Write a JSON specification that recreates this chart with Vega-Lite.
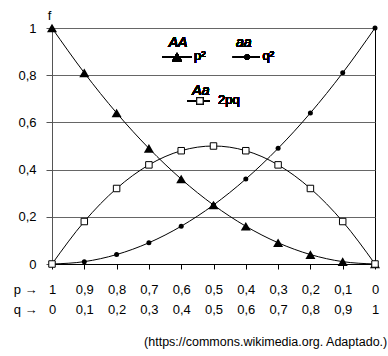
{
  "$schema": "https://vega.github.io/schema/vega-lite/v6.json",
  "width": 323,
  "height": 236,
  "autosize": {"type": "none"},
  "padding": {"left": 52, "top": 28, "right": 13, "bottom": 92},
  "background": "white",
  "config": {
    "font": "Liberation Sans",
    "view": {"stroke": "#000", "strokeWidth": 1},
    "axis": {"labelColor": "#000", "titleColor": "#000", "labelFontSize": 13, "titleFontSize": 13, "titleFontWeight": "normal", "labelFont": "Liberation Sans", "titleFont": "Liberation Sans", "labelOverlap": false, "labelBound": false, "labelFlush": false}
  },
  "title": {"text": "(https://commons.wikimedia.org. Adaptado.)", "orient": "bottom", "anchor": "end", "fontSize": 12.5, "fontWeight": "normal", "color": "#000", "offset": 20, "dx": 7, "font": "Liberation Sans"},
  "resolve": {"axis": {"x": "independent", "y": "independent"}},
  "data": {"values": [
    {"q": 0, "s": "p2", "f": 1}, {"q": 0.1, "s": "p2", "f": 0.81}, {"q": 0.2, "s": "p2", "f": 0.64}, {"q": 0.3, "s": "p2", "f": 0.49}, {"q": 0.4, "s": "p2", "f": 0.36}, {"q": 0.5, "s": "p2", "f": 0.25}, {"q": 0.6, "s": "p2", "f": 0.16}, {"q": 0.7, "s": "p2", "f": 0.09}, {"q": 0.8, "s": "p2", "f": 0.04}, {"q": 0.9, "s": "p2", "f": 0.01}, {"q": 1, "s": "p2", "f": 0},
    {"q": 0, "s": "q2", "f": 0}, {"q": 0.1, "s": "q2", "f": 0.01}, {"q": 0.2, "s": "q2", "f": 0.04}, {"q": 0.3, "s": "q2", "f": 0.09}, {"q": 0.4, "s": "q2", "f": 0.16}, {"q": 0.5, "s": "q2", "f": 0.25}, {"q": 0.6, "s": "q2", "f": 0.36}, {"q": 0.7, "s": "q2", "f": 0.49}, {"q": 0.8, "s": "q2", "f": 0.64}, {"q": 0.9, "s": "q2", "f": 0.81}, {"q": 1, "s": "q2", "f": 1},
    {"q": 0, "s": "pq", "f": 0}, {"q": 0.1, "s": "pq", "f": 0.18}, {"q": 0.2, "s": "pq", "f": 0.32}, {"q": 0.3, "s": "pq", "f": 0.42}, {"q": 0.4, "s": "pq", "f": 0.48}, {"q": 0.5, "s": "pq", "f": 0.5}, {"q": 0.6, "s": "pq", "f": 0.48}, {"q": 0.7, "s": "pq", "f": 0.42}, {"q": 0.8, "s": "pq", "f": 0.32}, {"q": 0.9, "s": "pq", "f": 0.18}, {"q": 1, "s": "pq", "f": 0}
  ]},
  "layer": [
    {
      "mark": {"type": "line", "color": "#000", "strokeWidth": 1, "interpolate": "monotone", "clip": false},
      "encoding": {
        "x": {"field": "q", "type": "quantitative", "scale": {"domain": [0, 1], "nice": false},
          "axis": {"orient": "bottom", "values": [0, 0.1, 0.2, 0.3, 0.4, 0.5, 0.6, 0.7, 0.8, 0.9, 1],
            "labelExpr": "replace(format(1-datum.value,'.1~f'),'.',',')",
            "grid": false, "tickSize": 5, "labelPadding": 14, "labelBaseline": "top",
            "domainColor": "#000", "tickColor": "#000",
            "title": "p →", "titleX": -15, "titleY": 19, "titleAlign": "right", "titleBaseline": "top", "titleAngle": 0}},
        "y": {"field": "f", "type": "quantitative", "scale": {"domain": [0, 1], "nice": false},
          "axis": {"values": [0, 0.2, 0.4, 0.6, 0.8, 1],
            "labelExpr": "replace(format(datum.value,'.1~f'),'.',',')",
            "grid": true, "gridColor": "#666", "domainColor": "#555", "tickColor": "#555", "tickSize": 6, "labelPadding": 10,
            "title": "f", "titleAngle": 0, "titleX": -3, "titleY": -13, "titleAlign": "center", "titleBaseline": "middle"}},
        "detail": {"field": "s", "type": "nominal"}
      }
    },
    {
      "transform": [{"filter": "datum.s == 'p2'"}],
      "mark": {"type": "point", "shape": "triangle-up", "size": 100, "filled": true, "color": "#000", "opacity": 1, "clip": false},
      "encoding": {
        "x": {"field": "q", "type": "quantitative",
          "axis": {"orient": "bottom", "values": [0, 0.1, 0.2, 0.3, 0.4, 0.5, 0.6, 0.7, 0.8, 0.9, 1],
            "labelExpr": "replace(format(datum.value,'.1~f'),'.',',')",
            "grid": false, "ticks": false, "domain": false, "tickSize": 0, "labelPadding": 39, "labelBaseline": "top",
            "title": "q →", "titleX": -15, "titleY": 39, "titleAlign": "right", "titleBaseline": "top", "titleAngle": 0}},
        "y": {"field": "f", "type": "quantitative", "axis": null}
      }
    },
    {
      "transform": [{"filter": "datum.s == 'q2'"}],
      "mark": {"type": "point", "shape": "circle", "size": 25, "filled": true, "color": "#000", "opacity": 1, "clip": false},
      "encoding": {"x": {"field": "q", "type": "quantitative", "axis": null}, "y": {"field": "f", "type": "quantitative", "axis": null}}
    },
    {
      "transform": [{"filter": "datum.s == 'pq'"}],
      "mark": {"type": "point", "shape": "square", "size": 42, "fill": "#fff", "stroke": "#000", "strokeWidth": 1, "opacity": 1, "clip": false},
      "encoding": {"x": {"field": "q", "type": "quantitative", "axis": null}, "y": {"field": "f", "type": "quantitative", "axis": null}}
    },
    {"mark": {"type": "text", "font": "Liberation Sans", "fontSize": 14, "fontStyle": "italic", "align": "center", "baseline": "middle"},
     "encoding": {"x": {"datum": 0.39, "axis": null}, "y": {"datum": 0.936, "axis": null}, "text": {"value": "AA"}}},
    {"mark": {"type": "text", "font": "Liberation Sans", "fontSize": 14, "fontStyle": "italic", "align": "center", "baseline": "middle"},
     "encoding": {"x": {"datum": 0.594, "axis": null}, "y": {"datum": 0.936, "axis": null}, "text": {"value": "aa"}}},
    {"mark": {"type": "text", "font": "Liberation Sans", "fontSize": 14, "fontStyle": "italic", "align": "center", "baseline": "middle"},
     "encoding": {"x": {"datum": 0.461, "axis": null}, "y": {"datum": 0.733, "axis": null}, "text": {"value": "Aa"}}},
    {"mark": {"type": "rule", "color": "#000", "strokeWidth": 1},
     "encoding": {"x": {"datum": 0.341, "axis": null}, "x2": {"datum": 0.433}, "y": {"datum": 0.877, "axis": null}}},
    {"mark": {"type": "rule", "color": "#000", "strokeWidth": 1},
     "encoding": {"x": {"datum": 0.56, "axis": null}, "x2": {"datum": 0.644}, "y": {"datum": 0.877, "axis": null}}},
    {"mark": {"type": "rule", "color": "#000", "strokeWidth": 1},
     "encoding": {"x": {"datum": 0.418, "axis": null}, "x2": {"datum": 0.489}, "y": {"datum": 0.691, "axis": null}}},
    {"mark": {"type": "point", "shape": "triangle-up", "size": 100, "filled": true, "color": "#000", "opacity": 1},
     "encoding": {"x": {"datum": 0.387, "axis": null}, "y": {"datum": 0.877, "axis": null}}},
    {"mark": {"type": "point", "shape": "circle", "size": 25, "filled": true, "color": "#000", "opacity": 1},
     "encoding": {"x": {"datum": 0.604, "axis": null}, "y": {"datum": 0.877, "axis": null}}},
    {"mark": {"type": "point", "shape": "square", "size": 40, "fill": "#fff", "stroke": "#000", "strokeWidth": 1, "opacity": 1},
     "encoding": {"x": {"datum": 0.458, "axis": null}, "y": {"datum": 0.691, "axis": null}}},
    {"mark": {"type": "text", "font": "Liberation Sans", "fontSize": 13, "align": "left", "baseline": "middle"},
     "encoding": {"x": {"datum": 0.44, "axis": null}, "y": {"datum": 0.88, "axis": null}, "text": {"value": "p²"}}},
    {"mark": {"type": "text", "font": "Liberation Sans", "fontSize": 13, "align": "left", "baseline": "middle"},
     "encoding": {"x": {"datum": 0.652, "axis": null}, "y": {"datum": 0.88, "axis": null}, "text": {"value": "q²"}}},
    {"mark": {"type": "text", "font": "Liberation Sans", "fontSize": 13, "align": "left", "baseline": "middle"},
     "encoding": {"x": {"datum": 0.514, "axis": null}, "y": {"datum": 0.694, "axis": null}, "text": {"value": "2pq"}}}
  ]
}
